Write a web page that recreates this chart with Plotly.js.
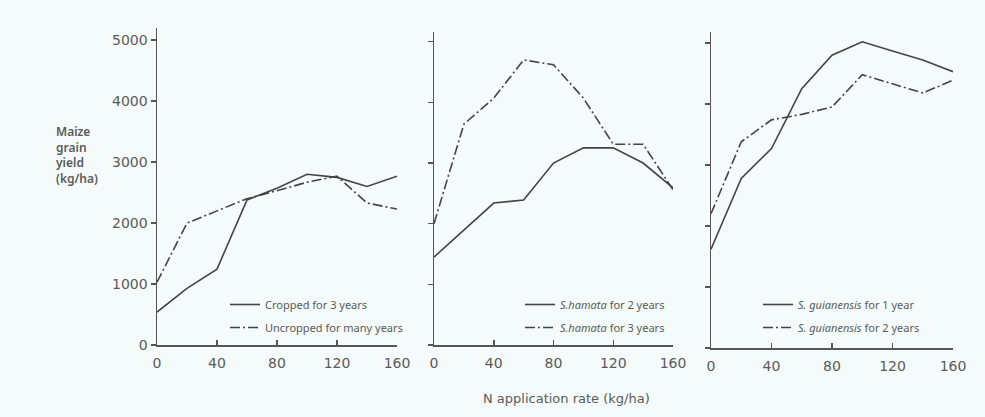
<!DOCTYPE html>
<html>
<head>
<meta charset="utf-8">
<script src="https://cdn.plot.ly/plotly-3.0.1.min.js"></script>
<style>html,body{margin:0;padding:0;background:#f4fbfa;}#chart{width:985px;height:417px;}</style>
</head>
<body>
<div id="chart"></div>
<script>
// N application rate (kg/ha)
const nRate = [0, 20, 40, 60, 80, 100, 120, 140, 160];
// Panel 1
const cropped3 = [540, 930, 1245, 2380, 2570, 2800, 2750, 2600, 2770];
const uncroppedMany = [1030, 2000, 2200, 2400, 2530, 2670, 2770, 2330, 2230];
// Panel 2
const hamata2 = [1450, 1900, 2340, 2390, 3000, 3250, 3250, 3000, 2590];
const hamata3 = [2000, 3640, 4070, 4700, 4620, 4070, 3310, 3310, 2560];
// Panel 3
const guian1 = [1620, 2780, 3270, 4250, 4800, 5020, 4870, 4720, 4530];
const guian2 = [2200, 3380, 3740, 3830, 3950, 4480, 4330, 4180, 4390];

const yTicks = [0, 1000, 2000, 3000, 4000, 5000];
const xTicks = [0, 40, 80, 120, 160];
const xTickText = ['0', '40', '80', '120', '160'];

const names = {
  c: 'Cropped for 3 years',
  u: 'Uncropped for many years',
  h2: '<i>S.hamata</i> for 2 years',
  h3: '<i>S.hamata</i> for 3 years',
  g1: '<i>S. guianensis</i> for 1 year',
  g2: '<i>S. guianensis</i> for 2 years'
};

const lineCol = '#444444';
const solid = {color: lineCol, width: 1.6};
const dd = {color: lineCol, width: 1.6, dash: '10px,3px,2px,3px'};

const traces = [
  {x: nRate, y: cropped3, name: names.c, line: solid, xaxis: 'x', yaxis: 'y', legend: 'legend', legendgroup: 'a'},
  {x: nRate, y: uncroppedMany, name: names.u, line: dd, xaxis: 'x', yaxis: 'y', legend: 'legend', legendgroup: 'b'},
  {x: nRate, y: hamata2, name: names.h2, line: solid, xaxis: 'x2', yaxis: 'y2', legend: 'legend2', legendgroup: 'c'},
  {x: nRate, y: hamata3, name: names.h3, line: dd, xaxis: 'x2', yaxis: 'y2', legend: 'legend2', legendgroup: 'd'},
  {x: nRate, y: guian1, name: names.g1, line: solid, xaxis: 'x3', yaxis: 'y3', legend: 'legend3', legendgroup: 'e'},
  {x: nRate, y: guian2, name: names.g2, line: dd, xaxis: 'x3', yaxis: 'y3', legend: 'legend3', legendgroup: 'f'}
].map(t => Object.assign({type: 'scatter', mode: 'lines', hoverinfo: 'skip'}, t));

const H = 417, W = 985;
const txtCol = '#5a5a5a';
const tickFont = {family: 'DejaVu Sans, sans-serif', size: 14, color: txtCol};
function xax(d0, d1, labels) {
  return {
    domain: [d0 / W, d1 / W], range: [0, 160], tickvals: xTicks, ticktext: xTickText,
    showticklabels: labels, ticks: 'inside', ticklen: 5, tickwidth: 1.5, tickcolor: '#555',
    ticklabelstandoff: 5,
    showline: true, linecolor: '#555', linewidth: 1.5, showgrid: false, zeroline: false,
    tickfont: tickFont, fixedrange: true
  };
}
function yax(anchor, yBottom, yTop, topVal, labels) {
  return {
    anchor: anchor, domain: [1 - yBottom / H, 1 - yTop / H], range: [0, topVal], tickvals: yTicks,
    showticklabels: labels, ticks: 'outside', ticklen: 5, tickwidth: 1.5, tickcolor: '#555',
    showline: true, linecolor: '#555', linewidth: 1.5, showgrid: false, zeroline: false,
    tickfont: tickFont, fixedrange: true
  };
}
function leg(xPx, yPx) {
  return {
    x: xPx / W, y: 1 - yPx / H, xanchor: 'left', yanchor: 'top', bgcolor: 'rgba(0,0,0,0)',
    font: {family: 'Noto Sans, sans-serif', size: 11, color: txtCol},
    traceorder: 'grouped', tracegroupgap: 4, itemwidth: 30
  };
}

const layout = {
  width: W, height: H,
  margin: {l: 0, r: 0, t: 0, b: 0},
  paper_bgcolor: '#f4fbfa', plot_bgcolor: 'rgba(0,0,0,0)',
  showlegend: true,
  xaxis: Object.assign(xax(157, 397, true), {anchor: 'y'}),
  xaxis2: Object.assign(xax(434, 673, true), {anchor: 'y2'}),
  xaxis3: Object.assign(xax(711, 953, true), {anchor: 'y3'}),
  yaxis: yax('x', 345, 28, 5200, true),
  yaxis2: yax('x2', 345, 32, 5160, false),
  yaxis3: yax('x3', 348, 32, 5180, false),
  legend: leg(225, 290),
  legend2: leg(520, 290),
  legend3: leg(758, 290),
  annotations: [
    {xref: 'paper', yref: 'paper', x: 54 / W, y: 1 - 121 / H, xanchor: 'left', yanchor: 'top', align: 'left',
     text: 'Maize<br>grain<br>yield<br>(kg/ha)', showarrow: false,
     font: {family: 'Noto Sans, sans-serif', size: 12, color: txtCol, weight: 600}},
    {xref: 'paper', yref: 'paper', x: 566 / W, y: 1 - 398 / H, xanchor: 'center', yanchor: 'middle',
     text: 'N application rate (kg/ha)', showarrow: false,
     font: {family: 'DejaVu Sans, sans-serif', size: 13, color: txtCol}}
  ]
};

Plotly.newPlot('chart', traces, layout, {staticPlot: true, displayModeBar: false});
</script>
</body>
</html>
